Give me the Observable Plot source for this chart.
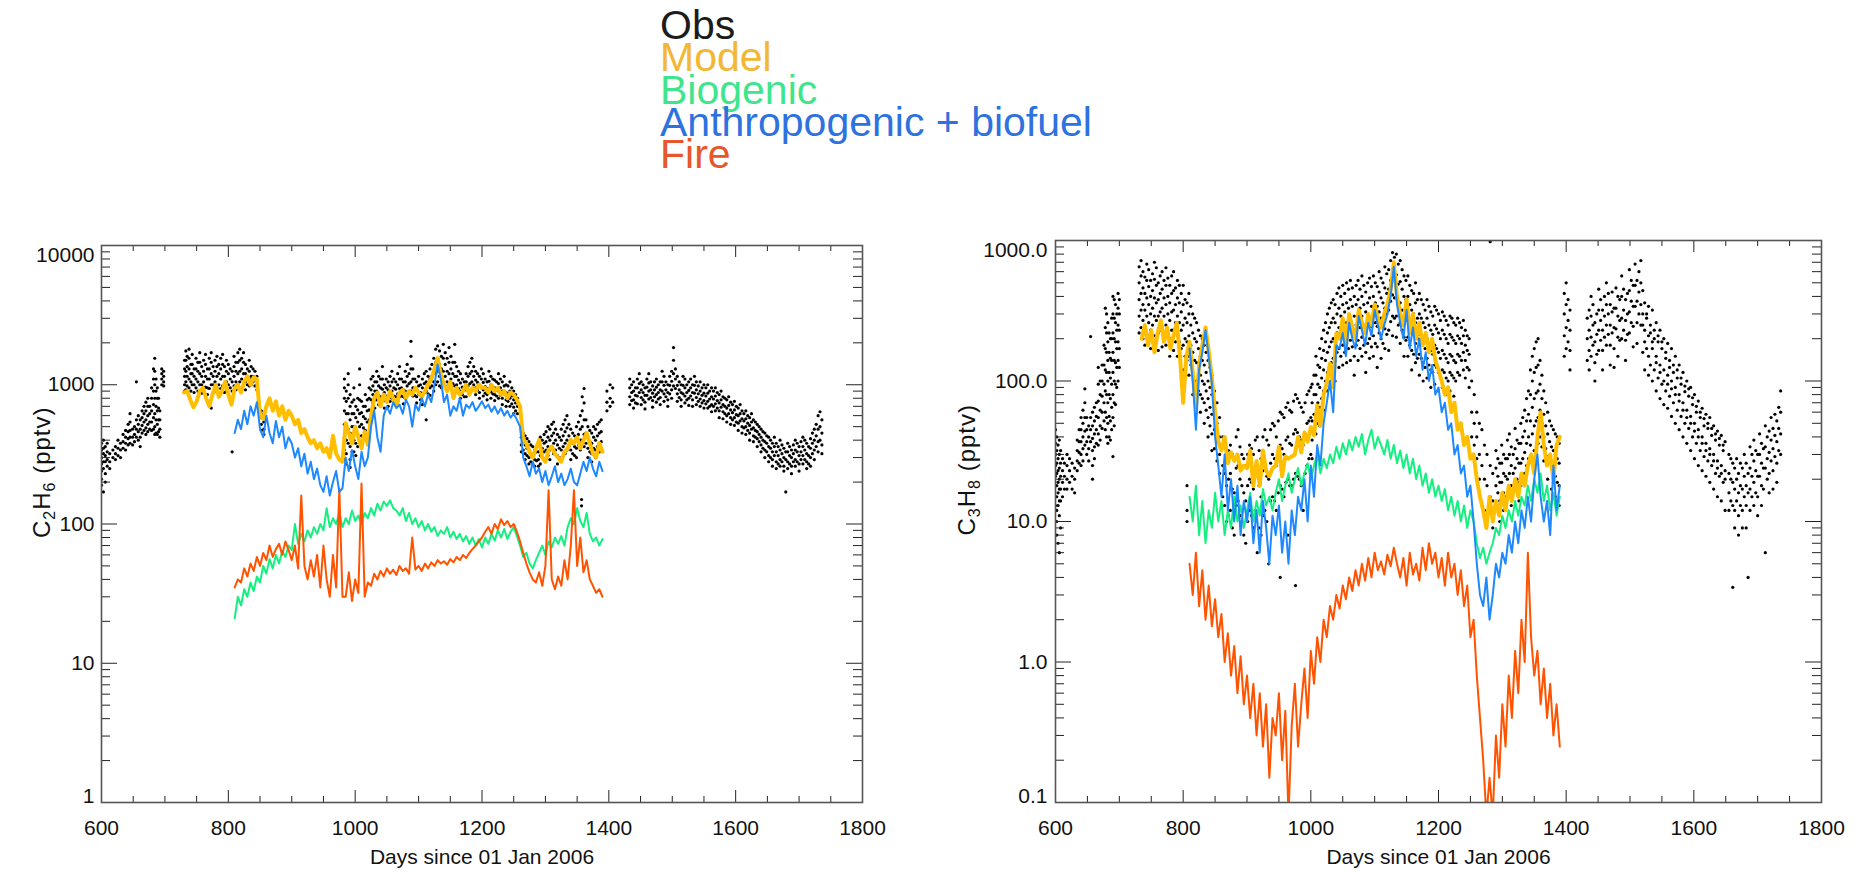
<!DOCTYPE html>
<html>
<head>
<meta charset="utf-8">
<script src="https://cdn.jsdelivr.net/npm/d3@7"></script>
<script src="https://cdn.jsdelivr.net/npm/@observablehq/plot@0.6"></script>
<style>
  body { margin: 0; background: #fff; width: 1861px; height: 872px; overflow: hidden; position: relative;
         font-family: "Liberation Sans", Helvetica, Arial, sans-serif; }
  #legend { position: absolute; left: 660px; top: 9px; font-size: 41px; line-height: 32.3px; white-space: nowrap; }
  .panel { position: absolute; top: 200px; }
</style>
</head>
<body>
<div id="legend"></div>
<div id="left" class="panel" style="left:0px"></div>
<div id="right" class="panel" style="left:930px"></div>
<script>
// ---- legend ----
const legendLabels = ["Obs", "Model", "Biogenic", "Anthropogenic + biofuel", "Fire"];
const legendColors = ["#1c1c1c", "#f3b733", "#3fe58c", "#2d72de", "#e8562b"];

// ---- line colours ----
const modelColor = "#ffbf00";
const bioColor = "#14f080";
const anthroColor = "#1e88ff";
const fireColor = "#ff5300";

// ---- shared x axis ----
const dayTicks = [600, 800, 1000, 1200, 1400, 1600, 1800];
const dayMinorTicks = [650, 700, 750, 850, 900, 950, 1050, 1100, 1150, 1250, 1300, 1350, 1450, 1500, 1550, 1650, 1700, 1750];
const xTitle = "Days since 01 Jan 2006";
const dayStep = 5; // model output spacing (days)

// ================= C2H6 =================
const c2h6Decades = [1, 10, 100, 1000, 10000];
const c2h6ModelStart = 730;
const c2h6Model = [
  880, 900, 780, 690, 760, 900, 950, 800, 700, 850, 1000, 820, 900, 1050, 850, 720, 950, 1000, 880, 1050, 1150, 1000, 1130, 1100,
  600, 570, 700, 800, 650, 760, 600, 700, 560, 650,
  600, 520, 560, 450, 480, 420, 380, 400, 350,
  380, 330, 350, 300, 430, 320, 290, 280,
  530, 450, 380, 500, 420, 350, 460, 370,
  600, 800, 880, 700,
  850, 750, 900, 800, 700, 880, 920, 800, 900, 850, 950, 880, 820, 900,
  1000, 1100, 1300, 1550, 1200,
  1000, 900, 1050, 800, 950, 850, 900, 1000, 850, 950, 900, 1000, 950,
  950, 880, 1000, 900, 950, 850, 900, 800, 880, 850, 780,
  700, 400,
  380, 330, 300, 350, 400, 300, 280, 340, 360, 320, 300, 280, 330, 350, 400, 380, 420, 350, 400, 450, 380, 320, 300, 380, 330
];
const c2h6CompStart = 810;
const c2h6Anthro = [
  450, 560, 480, 650, 520, 700, 600, 750, 480,
  420, 600, 450, 380, 550, 420, 500, 350, 420,
  380, 300, 350, 260, 320, 230, 280, 210, 250,
  190, 170, 220, 160, 200, 240, 170, 180,
  300, 240, 340, 260, 210, 330, 260, 300,
  500, 650, 420, 330, 600, 700, 620, 750,
  680, 720, 620, 780, 700, 500, 720, 650, 800, 700,
  850, 750, 1000, 1400, 1100,
  750, 850, 600, 700, 650, 800, 600, 720, 680, 750, 650, 700, 760,
  680, 720, 640, 700, 620, 680, 600, 650, 580, 620, 560,
  500, 300, 260, 220, 280,
  230, 250, 200, 240, 190, 220, 260, 200, 230, 190, 210, 250, 200, 190, 230, 280, 240, 300, 250, 220, 280, 240
];
const c2h6Bio = [
  21, 30, 26, 34, 30, 38, 33, 42, 38,
  50, 44, 56, 48, 60, 52, 64, 58, 70,
  65, 100, 72, 85, 75, 90, 80, 95, 85,
  100, 90, 130, 95, 110, 100, 120, 95,
  110, 100, 125, 105, 115, 100, 120, 110,
  130, 115, 140, 125, 145, 135, 148, 130,
  125, 115, 130, 105, 120, 100, 110, 95, 105, 90,
  100, 88, 95, 82, 90,
  85, 95, 80, 88, 78, 85, 75, 82, 72, 80, 70, 78, 68,
  80, 72, 85, 76, 90, 80, 92, 78, 88, 95, 82,
  70, 58, 62, 52, 48,
  55, 62, 70, 60, 75, 68, 80, 72, 82, 70, 95, 110, 100, 130, 105, 95, 120, 85, 75, 80, 70, 78
];
const c2h6Fire = [
  35, 40, 38, 48, 42, 52, 46, 58, 50,
  62, 55, 70, 58, 66, 72, 60, 75, 65,
  55, 70, 48, 160, 50, 40, 55, 42, 60,
  35, 70, 40, 30, 60, 35, 180, 30,
  30, 45, 28, 40, 32, 195, 30, 38,
  36, 44, 40, 46, 42, 48, 44, 47,
  43, 50, 46, 48, 44, 80, 47, 50, 46, 52,
  48, 53, 50, 55, 52,
  54, 51, 56, 53, 58, 55, 60, 57, 62, 66, 70, 75, 80,
  88, 95, 85, 100, 92, 108, 98, 105, 95, 100, 88,
  75, 62, 52, 45, 40,
  38, 45, 36, 50, 175, 40, 34, 42, 36, 55, 40, 70, 175, 50, 80, 45, 55, 40, 36, 32, 34, 30
];
// observations: [day, value, value, ...]
const c2h6Obs = [
  [600, 380, 340, 300, 270, 240, 210, 190], [603, 400, 350, 320, 280, 250, 170], [606, 360, 310, 280, 230, 200],
  [609, 380, 330, 290, 260], [613, 320, 280, 250], [618, 340, 300], [622, 360, 320, 290], [626, 400, 350, 310],
  [630, 380, 340, 300], [634, 440, 390, 350], [638, 470, 420, 380, 340], [642, 520, 460, 410, 370],
  [645, 620, 540, 470, 420, 380], [649, 480, 420, 370], [652, 500, 440, 390], [655, 1050, 560, 480, 420],
  [658, 600, 520, 460, 400], [661, 560, 480, 420, 360], [664, 650, 580, 510, 450], [667, 700, 620, 540, 470],
  [670, 750, 650, 560, 490, 440], [673, 800, 700, 600, 520, 460], [676, 700, 620, 540, 480],
  [679, 950, 800, 650, 540, 470], [682, 1300, 1100, 900, 720, 580, 480], [684, 1550, 1250, 1000, 800, 620, 500, 440],
  [686, 1100, 900, 700, 560, 450], [688, 950, 800, 650, 520, 440], [690, 800, 680, 560, 460], [692, 650, 560, 480, 420],
  [695, 1300, 1200, 1100, 1000], [698, 1250, 1150, 1050, 980],
  [731, 1500, 1300, 1150, 1000, 900], [733, 1750, 1500, 1250, 1050, 920], [735, 1600, 1350, 1150, 980],
  [738, 1800, 1550, 1300, 1100, 950], [741, 1400, 1200, 1050, 900], [743, 1650, 1400, 1200, 1000],
  [746, 1300, 1150, 1000, 880], [749, 1550, 1300, 1100, 950], [752, 1450, 1250, 1050, 900],
  [755, 1700, 1450, 1200, 1000], [758, 1350, 1150, 1000, 870], [761, 1500, 1250, 1050, 920],
  [764, 1650, 1400, 1150, 960], [767, 1300, 1100, 950, 850], [770, 1550, 1300, 1100, 940],
  [773, 1700, 1450, 1200, 1000, 680], [776, 1350, 1150, 1000, 880], [779, 1500, 1250, 1050, 900],
  [782, 1600, 1350, 1150, 950], [785, 1400, 1200, 1000, 870], [788, 1550, 1300, 1100, 940],
  [791, 1650, 1400, 1150, 980], [794, 1350, 1150, 1000, 880], [797, 1500, 1250, 1050, 900],
  [800, 1400, 1200, 1000, 860], [803, 1300, 1100, 950], [806, 1250, 1050, 900, 330],
  [809, 1600, 1350, 1150, 980], [812, 1450, 1250, 1050, 920], [815, 1700, 1450, 1200, 1000],
  [818, 1800, 1500, 1250, 1050], [821, 1550, 1300, 1100, 950], [824, 1700, 1450, 1200, 1000],
  [827, 1400, 1200, 1050, 920], [830, 1300, 1150, 1000], [833, 1500, 1250, 1100, 980], [836, 1350, 1150, 1000],
  [839, 1300, 1150, 1050], [842, 1250, 1100, 980], [845, 1150, 1000, 920], [852, 650, 580, 520, 470], [856, 620, 540, 480, 440],
  [983, 1100, 950, 800, 650, 520, 420, 340, 290], [986, 900, 760, 620, 500, 400, 320, 270],
  [989, 1200, 1000, 800, 620, 480, 380], [992, 850, 700, 560, 450, 360, 290, 255], [995, 750, 620, 500, 400, 330],
  [998, 950, 780, 620, 500, 400, 330], [1001, 700, 580, 470, 380, 310], [1004, 800, 660, 540, 440, 360],
  [1007, 1300, 1000, 780, 620, 500], [1010, 760, 630, 520, 430], [1013, 700, 590, 490, 410], [1016, 850, 700, 570, 470],
  [1019, 780, 650, 540], [1022, 950, 800, 660, 560], [1025, 1100, 920, 780, 650],
  [1028, 1150, 980, 850, 740], [1031, 1050, 900, 780, 680], [1034, 1250, 1050, 900, 780], [1037, 1150, 980, 840, 720],
  [1040, 1100, 950, 820, 700], [1043, 1350, 1100, 930, 800], [1046, 1000, 880, 770, 680], [1049, 1100, 950, 830],
  [1052, 1050, 920, 800, 700], [1055, 1150, 980, 850, 760], [1058, 1250, 1050, 900, 800], [1061, 1100, 950, 830],
  [1064, 1050, 930, 820, 720], [1067, 1200, 1000, 860, 760], [1070, 1350, 1100, 940, 820], [1073, 1100, 950, 830],
  [1076, 1050, 920, 820, 730], [1079, 1250, 1050, 900, 800], [1082, 1400, 1150, 980, 850], [1085, 1200, 1020, 880],
  [1088, 2050, 1600, 1300, 1050, 900], [1091, 1300, 1100, 950, 830], [1094, 1100, 950, 840], [1097, 1050, 920, 820, 740],
  [1100, 1150, 980, 860], [1103, 1000, 880, 780], [1106, 1100, 950, 830, 720], [1109, 1200, 1020, 880],
  [1112, 1250, 1050, 900, 560], [1115, 1150, 980, 860], [1118, 1300, 1100, 950, 840], [1121, 1400, 1150, 980],
  [1124, 1550, 1250, 1050, 900], [1127, 1800, 1450, 1200, 1000], [1130, 1900, 1550, 1250, 1050],
  [1133, 1750, 1400, 1150, 980], [1136, 1600, 1300, 1100, 950], [1139, 1950, 1550, 1250, 1050],
  [1142, 1700, 1400, 1150, 980], [1145, 1550, 1250, 1050, 920], [1148, 1850, 1450, 1200, 1000],
  [1151, 1600, 1300, 1100, 950], [1154, 1450, 1200, 1020], [1157, 1950, 1450, 1150, 980], [1160, 1350, 1150, 1000, 880],
  [1163, 1250, 1080, 940], [1166, 1200, 1030, 900, 800], [1169, 1100, 960, 850], [1172, 1050, 920, 820],
  [1175, 1200, 1050, 920, 820], [1178, 1350, 1150, 980], [1181, 1450, 1200, 1020, 900], [1184, 1550, 1250, 1050, 920],
  [1187, 1350, 1150, 1000], [1190, 1250, 1080, 950, 850], [1193, 1200, 1040, 920], [1196, 1150, 1000, 880, 800],
  [1199, 1300, 1100, 950], [1202, 1200, 1040, 920, 830], [1205, 1100, 970, 870], [1208, 1050, 940, 850, 780],
  [1211, 1250, 1060, 930], [1214, 1150, 1000, 890, 800], [1217, 1100, 960, 860], [1220, 1080, 950, 850, 770],
  [1223, 1050, 920, 830], [1226, 1200, 1020, 900, 800], [1229, 1100, 950, 840], [1232, 1050, 900, 800, 720],
  [1235, 1150, 980, 860], [1238, 1000, 880, 780, 700], [1241, 980, 860, 760], [1244, 1050, 900, 800, 700],
  [1247, 950, 830, 730], [1250, 900, 780, 690, 620], [1253, 850, 740, 650], [1256, 800, 700, 620],
  [1262, 480, 420, 370, 330], [1265, 450, 390, 340], [1268, 430, 370, 320, 290], [1271, 410, 350, 310],
  [1274, 390, 340, 300, 270], [1277, 370, 320, 280], [1280, 360, 310, 270], [1283, 340, 290, 260], [1286, 330, 285],
  [1289, 380, 330, 290, 260], [1292, 420, 360, 310, 270], [1295, 400, 350, 300], [1298, 440, 380, 330, 290],
  [1301, 460, 390, 340], [1304, 500, 420, 360, 310], [1307, 480, 400, 340, 290], [1310, 520, 430, 360],
  [1313, 540, 450, 380, 320], [1316, 480, 400, 340], [1319, 440, 370, 310, 270], [1322, 420, 350, 300],
  [1325, 480, 400, 340, 290], [1328, 520, 430, 360], [1331, 560, 460, 380, 320], [1334, 600, 490, 400, 340],
  [1337, 520, 430, 360], [1340, 480, 400, 340, 290], [1343, 450, 380, 320], [1346, 430, 360, 310],
  [1349, 500, 410, 350, 300], [1352, 540, 440, 370], [1355, 600, 480, 400, 340], [1357, 150, 135],
  [1358, 820, 650, 500, 400], [1361, 940, 740, 560, 440, 360], [1364, 560, 450, 380], [1367, 500, 420, 350, 300],
  [1370, 470, 390, 330], [1373, 450, 380, 320, 280], [1376, 500, 420, 350], [1379, 480, 400, 340, 300],
  [1382, 520, 430, 360], [1385, 540, 450, 380, 330], [1388, 560, 460, 390],
  [1397, 900, 750, 650], [1402, 1000, 800, 700], [1406, 950, 750],
  [1433, 1100, 950, 820, 720], [1436, 1000, 880, 770], [1439, 1050, 900, 780, 680], [1442, 950, 840, 740],
  [1445, 1100, 950, 830, 730], [1448, 1200, 1020, 880], [1451, 1050, 920, 810, 720], [1454, 1000, 880, 780],
  [1457, 950, 840, 750, 670], [1460, 1100, 960, 840], [1463, 1200, 1030, 900, 790], [1466, 1050, 920, 810],
  [1469, 980, 870, 770, 690], [1472, 1050, 920, 820], [1475, 1100, 960, 850, 750], [1478, 1000, 880, 790],
  [1481, 1050, 920, 810, 720], [1484, 1250, 1050, 900], [1487, 1150, 990, 860, 760], [1490, 1050, 920, 820],
  [1493, 1000, 880, 780, 700], [1496, 1150, 990, 860], [1499, 1250, 1060, 920, 800], [1502, 1850, 1500, 1200, 980],
  [1505, 1300, 1100, 940], [1508, 1150, 990, 860, 760], [1511, 1050, 920, 810], [1514, 1000, 880, 780, 700],
  [1517, 1150, 990, 860], [1520, 1100, 950, 830, 740], [1523, 1000, 880, 780], [1526, 1050, 910, 800, 710],
  [1529, 1100, 950, 830], [1532, 1000, 880, 780, 700], [1535, 1150, 990, 870], [1538, 1050, 920, 810, 720],
  [1541, 980, 860, 760], [1544, 1050, 900, 790, 700], [1547, 950, 840, 740], [1550, 1000, 870, 770, 680],
  [1553, 950, 830, 730], [1556, 1000, 870, 760, 680], [1559, 900, 790, 700], [1562, 950, 820, 720, 640],
  [1565, 900, 790, 700], [1568, 950, 830, 730, 650], [1571, 880, 770, 680], [1574, 850, 740, 650, 580],
  [1577, 900, 780, 690], [1580, 820, 720, 640, 570], [1583, 800, 700, 620], [1586, 780, 680, 600, 540],
  [1589, 820, 710, 620], [1592, 750, 660, 580, 520], [1595, 720, 630, 560], [1598, 760, 660, 580, 510],
  [1601, 700, 610, 540], [1604, 680, 600, 530, 470], [1607, 720, 620, 550], [1610, 650, 570, 500, 450],
  [1613, 620, 550, 490], [1616, 650, 570, 500, 440], [1619, 600, 530, 470], [1622, 580, 510, 450, 400],
  [1625, 620, 540, 480], [1628, 560, 490, 430, 390], [1631, 540, 470, 420], [1634, 520, 460, 410, 360],
  [1637, 500, 440, 390], [1640, 480, 420, 370, 330], [1643, 460, 400, 350], [1646, 450, 390, 340, 300],
  [1649, 430, 380, 330], [1652, 420, 360, 310, 280], [1655, 400, 350, 300], [1658, 380, 330, 290, 260],
  [1661, 420, 360, 310], [1664, 380, 330, 280, 250], [1667, 360, 310, 270], [1670, 400, 340, 290, 260],
  [1673, 370, 320, 280], [1676, 350, 300, 260, 240], [1679, 170, 330, 290], [1682, 380, 330, 280, 250],
  [1685, 360, 310, 270], [1688, 340, 300, 260, 230], [1691, 370, 320, 280], [1694, 400, 340, 290, 260],
  [1697, 380, 330, 280], [1700, 360, 310, 270, 240], [1703, 390, 330, 290], [1706, 420, 360, 310, 270],
  [1709, 400, 340, 290], [1712, 380, 320, 280, 250], [1715, 360, 310, 270], [1718, 410, 350, 300, 260],
  [1721, 450, 380, 320], [1724, 480, 400, 340, 290], [1727, 520, 430, 360], [1730, 600, 480, 390, 330],
  [1733, 640, 500, 400], [1736, 560, 450, 370, 320]
];

// ================= C3H8 =================
const c3h8Decades = [0.1, 1, 10, 100, 1000];
const c3h8ModelStart = 735;
const c3h8Model = [
  200, 250, 180, 230, 160, 220, 270, 190, 240, 170, 210, 260, 150, 70, 150, 190, 115, 65, 130, 180, 240, 165, 105,
  60, 37, 32, 40, 26, 31, 27, 30, 23, 25,
  24, 32, 18, 27, 18, 32, 23, 21, 24,
  25, 34, 21, 29, 28, 29, 30, 40,
  31, 43, 37, 47, 41, 67, 48, 80,
  97, 133, 90, 218,
  200, 280, 180, 300, 240, 200, 320, 260, 220, 300, 250, 350, 280, 240,
  300, 350, 450, 700, 400,
  300, 250, 380, 220, 300, 200, 260, 180, 220, 160, 200, 140, 120,
  100, 80, 90, 60, 70, 45, 50, 35, 40, 28, 30,
  20, 15,
  12, 9, 15, 10, 14, 11, 16, 12, 18, 14, 20, 15, 22, 18, 25, 30, 22, 40, 60, 35, 25, 30, 20, 35, 40
];
const c3h8CompStart = 810;
const c3h8Anthro = [
  170, 100, 45, 120, 160, 230, 150, 95, 40,
  25, 15, 30, 12, 20, 10, 18, 8, 14,
  10, 15, 7, 12, 6, 14, 9, 5, 11,
  8, 13, 6, 10, 5, 12, 8, 15,
  12, 20, 10, 25, 15, 35, 25, 50,
  70, 100, 60, 180, 170, 220, 150, 260,
  200, 170, 290, 230, 180, 260, 210, 320, 250, 200,
  250, 300, 400, 650, 350,
  260, 200, 320, 170, 240, 150, 200, 120, 160, 100, 130, 80, 90,
  60, 70, 45, 50, 30, 35, 22, 25, 15, 18, 10,
  5, 3, 2.5, 4, 2,
  3, 5, 4, 6, 5, 8, 6, 10, 7, 12, 9, 15, 10, 20, 30, 15, 10, 14, 8, 25, 12, 18
];
const c3h8Bio = [
  15, 10, 18, 8, 14, 7, 12, 9, 16,
  10, 14, 8, 12, 9, 15, 10, 13, 9,
  12, 16, 10, 14, 11, 17, 13, 15, 12,
  16, 20, 14, 18, 22, 16, 20, 24,
  18, 22, 26, 20, 25, 30, 22, 28,
  24, 30, 26, 34, 28, 36, 30, 38,
  32, 40, 34, 42, 30, 38, 45, 33, 40, 35,
  30, 38, 28, 35, 26,
  32, 24, 30, 22, 28, 20, 25, 18, 22, 16, 20, 15, 18,
  14, 17, 12, 15, 11, 14, 10, 13, 9, 12, 10,
  7, 5.5, 6.5, 5, 6,
  7, 9, 8, 11, 9, 12, 10, 14, 11, 15, 13, 18, 14, 20, 16, 22, 14, 18, 12, 16, 11, 15
];
const c3h8Fire = [
  5, 3, 6, 2.5, 4.5, 2, 3.5, 1.8, 2.8,
  1.5, 2.2, 1, 1.6, 0.8, 1.3, 0.6, 1.1, 0.5,
  0.8, 0.4, 0.7, 0.3, 0.6, 0.25, 0.5, 0.15, 0.4,
  0.3, 0.6, 0.2, 0.45, 0.08, 0.35, 0.7, 0.25,
  0.5, 0.9, 0.4, 1.2, 0.7, 1.5, 1, 2,
  1.5, 2.5, 2, 3, 2.4, 3.5, 2.8, 4,
  3.2, 4.5, 3.5, 5, 3.8, 5.5, 4, 6, 4.5, 5.2,
  4.2, 5.8, 4.8, 6.5, 5,
  4, 5.5, 3.5, 6, 4.2, 5, 3.8, 6.5, 4.5, 7, 5, 6, 4,
  5.5, 3.5, 6, 4, 5, 3, 4.5, 2.5, 3.5, 1.5, 2,
  0.8, 0.4, 0.2, 0.08, 0.15,
  0.08, 0.3, 0.15, 0.5, 0.25, 0.8, 0.4, 1.2, 0.6, 2, 1, 6, 1.5, 0.8, 1.2, 0.5, 0.9, 0.4, 0.7, 0.3, 0.5, 0.25
];
const c3h8Obs = [
  [600, 45, 36, 30, 25, 21, 18, 15, 13], [602, 40, 32, 26, 22, 18, 15, 12, 10, 8], [604, 35, 28, 23, 19, 16, 13, 7],
  [606, 38, 30, 24, 20, 17, 14, 11, 6], [608, 32, 26, 21, 17, 14, 9], [611, 28, 23, 19, 15], [614, 26, 21, 17],
  [618, 30, 25, 20, 17], [622, 28, 23, 19], [626, 26, 21, 17], [630, 24, 20, 16], [634, 38, 32, 27, 23],
  [637, 45, 37, 31, 26], [640, 55, 45, 37, 30, 25], [643, 62, 50, 40, 33, 27], [646, 88, 70, 55, 44, 35],
  [649, 55, 45, 37, 30], [652, 48, 40, 33, 27], [655, 207, 55, 45, 37], [658, 60, 48, 39, 32, 25, 20],
  [661, 65, 52, 42, 34, 28], [664, 70, 56, 45, 36], [667, 125, 95, 72, 55, 42, 35], [670, 100, 80, 62, 48, 38],
  [673, 130, 100, 78, 60, 46], [676, 180, 130, 95, 70, 52], [678, 330, 240, 170, 120, 85, 60, 45],
  [680, 300, 220, 160, 115, 80, 55, 40], [682, 260, 190, 140, 100, 70, 50, 36], [684, 220, 160, 115, 80, 56, 40],
  [686, 200, 145, 105, 75, 52, 38], [688, 280, 200, 140, 95, 65, 45], [690, 400, 300, 220, 160, 115, 80, 55, 29],
  [692, 380, 280, 200, 140, 100, 70, 48], [694, 350, 260, 190, 135, 95, 68], [696, 300, 230, 170, 125, 90],
  [698, 420, 330, 250, 190, 140, 100], [700, 380, 300, 230, 170, 125],
  [731, 650, 500, 380, 290, 220], [734, 720, 560, 420, 320, 240], [737, 600, 460, 350, 270, 200],
  [740, 550, 420, 320, 240, 180], [743, 680, 520, 390, 290], [746, 620, 470, 350, 260, 190],
  [749, 520, 400, 300, 230, 170], [752, 580, 440, 330, 250], [755, 700, 530, 390, 290, 210],
  [758, 640, 480, 360, 270], [761, 500, 380, 290, 220, 165], [764, 560, 420, 310, 230],
  [767, 600, 450, 330, 240, 175], [770, 520, 390, 290, 210], [773, 640, 480, 350, 250, 180],
  [776, 540, 400, 300, 220], [779, 480, 360, 270, 200, 150], [782, 560, 420, 310, 230],
  [785, 600, 440, 320, 230, 165], [788, 460, 350, 260, 190], [791, 520, 390, 290, 210, 150],
  [794, 480, 360, 260, 190], [797, 420, 310, 230, 170, 120], [800, 480, 350, 250, 180, 120],
  [803, 380, 280, 200, 150], [806, 360, 260, 190, 140, 18, 12, 10], [809, 420, 300, 210, 150, 110],
  [812, 340, 250, 180, 130], [815, 300, 220, 160, 115, 80], [818, 280, 200, 140, 100], [821, 260, 190, 135, 95, 70],
  [824, 230, 170, 120, 85], [827, 210, 150, 110, 80, 60], [830, 200, 140, 100, 75], [833, 180, 130, 95, 70, 50],
  [836, 160, 115, 85, 62], [839, 140, 100, 75, 55, 40], [842, 125, 90, 65, 48], [845, 110, 80, 58, 42, 32],
  [849, 85, 62, 45, 33], [853, 70, 50, 37, 27], [857, 55, 40, 30, 22],
  [862, 40, 25, 15], [865, 35, 22, 13], [868, 30, 18, 10], [871, 32, 20, 11], [874, 35, 22, 12], [877, 30, 17, 9],
  [880, 28, 16, 8], [883, 40, 24, 13], [886, 45, 25, 14], [889, 34, 20, 11], [892, 30, 18, 10], [895, 28, 16, 8],
  [898, 25, 14, 7], [901, 30, 18, 10], [904, 35, 20, 12], [907, 33, 19, 11], [910, 30, 17, 9], [913, 38, 21, 12],
  [916, 40, 22, 6], [919, 32, 18, 9], [922, 28, 15, 8], [925, 40, 23, 11], [928, 45, 25, 12], [931, 38, 21, 10],
  [934, 35, 20, 5], [937, 45, 26, 14], [940, 50, 30, 15], [943, 48, 28, 14], [946, 40, 25, 12], [949, 52, 30, 16],
  [952, 60, 35, 18, 4], [955, 58, 33, 17], [958, 55, 30, 15], [961, 65, 38, 19], [964, 70, 40, 20, 8],
  [967, 62, 36, 18], [970, 60, 35, 18], [973, 72, 42, 20], [976, 80, 45, 22, 3.5], [979, 75, 43, 21],
  [982, 70, 40, 20], [985, 65, 38, 18], [988, 60, 35, 12], [991, 70, 42, 22], [994, 80, 50, 25], [997, 85, 52, 28],
  [1000, 90, 55, 30],
  [1002, 95, 70, 52, 38, 28], [1005, 110, 80, 58, 42], [1008, 150, 110, 80, 58, 42], [1011, 130, 95, 70, 50],
  [1014, 170, 125, 90, 65, 48], [1017, 200, 145, 105, 75], [1020, 230, 165, 120, 85, 62], [1023, 260, 190, 140, 100],
  [1026, 300, 220, 160, 115, 85], [1029, 330, 240, 175, 125], [1032, 360, 260, 190, 135, 100], [1035, 380, 280, 200, 145],
  [1038, 350, 260, 190, 140, 100], [1041, 420, 300, 220, 160], [1044, 460, 330, 240, 170, 125], [1047, 400, 290, 210, 150],
  [1050, 480, 350, 250, 180, 130], [1053, 420, 310, 220, 160], [1056, 500, 360, 260, 185, 135], [1059, 450, 330, 240, 170],
  [1062, 520, 380, 270, 195, 140], [1065, 460, 340, 245, 175], [1068, 400, 290, 210, 150, 110], [1071, 480, 350, 250, 180],
  [1074, 520, 380, 270, 195, 140], [1077, 450, 330, 240, 170], [1080, 560, 400, 290, 205, 150], [1083, 480, 350, 250, 180],
  [1086, 430, 310, 225, 160, 115], [1089, 500, 360, 260, 185], [1092, 540, 390, 280, 200, 145], [1095, 470, 340, 245, 175],
  [1098, 560, 400, 290, 210, 150], [1101, 500, 360, 260, 185], [1104, 470, 340, 245, 175, 125], [1107, 600, 430, 310, 220],
  [1110, 540, 390, 280, 200, 145], [1113, 500, 360, 260, 185], [1116, 650, 460, 330, 235, 170], [1119, 580, 420, 300, 215],
  [1122, 620, 450, 320, 230, 165], [1125, 720, 520, 370, 265], [1128, 820, 580, 410, 290, 210], [1131, 760, 540, 390, 280],
  [1134, 800, 570, 400, 290, 205], [1137, 680, 490, 350, 250], [1140, 720, 510, 360, 260, 185], [1143, 620, 450, 320, 230],
  [1146, 560, 400, 290, 205, 150], [1149, 520, 380, 270, 195], [1152, 560, 400, 290, 205, 150], [1155, 480, 350, 250, 180],
  [1158, 440, 320, 230, 165, 120], [1161, 420, 300, 215, 155], [1164, 500, 360, 260, 185, 135], [1167, 380, 280, 200, 145],
  [1170, 420, 300, 215, 155, 110],
  [1173, 380, 280, 200, 145], [1176, 350, 260, 185, 135, 100], [1179, 320, 240, 170, 125], [1182, 380, 280, 200, 145, 105],
  [1185, 340, 250, 180, 130], [1188, 310, 230, 165, 120, 90], [1191, 290, 215, 155, 115], [1194, 340, 250, 180, 130, 95],
  [1197, 320, 235, 170, 125], [1200, 300, 220, 160, 115, 85], [1203, 270, 200, 145, 105], [1206, 310, 230, 165, 120, 90],
  [1209, 290, 215, 155, 115], [1212, 270, 200, 145, 105, 80], [1215, 250, 185, 135, 100], [1218, 290, 215, 155, 115, 85],
  [1221, 280, 205, 150, 110], [1224, 260, 195, 140, 105, 78], [1227, 250, 185, 135, 100], [1230, 280, 210, 155, 115],
  [1233, 260, 200, 150, 110], [1236, 240, 185, 140], [1239, 270, 210, 160, 120], [1242, 230, 180, 140, 105],
  [1245, 210, 165, 125], [1248, 200, 155, 120, 90],
  [1252, 100, 60, 40], [1256, 80, 50, 35], [1260, 60, 40, 28], [1264, 50, 30, 20], [1268, 45, 25], [1272, 35, 20, 12],
  [1276, 30, 18], [1281, 980, 25, 15], [1285, 22, 14, 9],
  [1290, 32, 24, 18, 13], [1293, 28, 21, 16, 12], [1296, 26, 19, 14, 10], [1299, 35, 26, 19, 14], [1302, 30, 22, 16, 12],
  [1305, 28, 21, 15], [1308, 38, 28, 20, 15], [1311, 42, 30, 22, 16], [1314, 34, 25, 18, 13], [1317, 30, 22, 16],
  [1320, 46, 33, 24, 17], [1323, 38, 28, 20], [1326, 36, 26, 19, 14], [1329, 50, 36, 26, 18], [1332, 55, 40, 28, 20],
  [1335, 62, 44, 31, 22], [1338, 75, 52, 36, 25], [1341, 85, 58, 40, 28], [1344, 120, 80, 52, 35],
  [1347, 150, 100, 65, 42, 28], [1350, 170, 115, 75, 48, 32], [1353, 190, 125, 82, 52], [1356, 200, 130, 85, 55, 36],
  [1359, 140, 95, 62, 40], [1362, 110, 75, 50, 34], [1365, 85, 58, 40, 27], [1368, 70, 48, 33], [1371, 60, 42, 29, 20],
  [1374, 52, 37, 26], [1377, 48, 34, 24, 17], [1380, 45, 32, 22], [1383, 42, 30, 21, 15], [1386, 40, 28, 19],
  [1389, 36, 26, 18, 13],
  [1397, 420, 300, 210, 150], [1400, 500, 350, 240, 170], [1403, 380, 270, 190], [1406, 320, 230, 165, 120],
  [1433, 280, 200, 140], [1436, 320, 230, 165, 120], [1439, 400, 290, 205, 150], [1442, 350, 250, 180],
  [1445, 260, 190, 135, 100], [1448, 300, 215, 155], [1451, 450, 320, 230, 165], [1454, 380, 270, 195],
  [1457, 320, 230, 165, 120], [1460, 400, 290, 205], [1463, 500, 350, 250, 180], [1466, 420, 300, 215],
  [1469, 350, 250, 180, 130], [1472, 430, 310, 220], [1475, 330, 240, 170, 125], [1478, 460, 330, 235],
  [1481, 400, 290, 205, 150], [1484, 380, 270, 195], [1487, 560, 400, 280, 200], [1490, 450, 320, 230],
  [1493, 380, 270, 195, 140], [1496, 420, 300, 215], [1499, 620, 440, 310, 220], [1502, 520, 370, 260],
  [1505, 480, 340, 245, 175], [1508, 680, 480, 340], [1511, 520, 370, 260, 185], [1514, 600, 430, 300],
  [1517, 720, 500, 350, 250],
  [1520, 440, 300, 250, 160], [1523, 360, 230, 190, 120], [1526, 300, 280, 170], [1529, 340, 210, 150, 110],
  [1532, 250, 220, 130], [1535, 320, 190, 170, 100], [1538, 230, 200, 120], [1541, 260, 150, 135, 85],
  [1544, 210, 190, 105], [1547, 230, 130, 115, 75], [1550, 190, 170, 95], [1553, 200, 120, 100, 68],
  [1556, 160, 145, 85], [1559, 185, 110, 95, 64], [1562, 140, 125, 78], [1565, 170, 100, 88, 56],
  [1568, 130, 115, 70], [1571, 150, 90, 80, 50], [1574, 120, 105, 62], [1577, 130, 80, 72, 45],
  [1580, 105, 95, 56], [1583, 115, 70, 62, 40], [1586, 92, 84, 50], [1589, 100, 62, 55, 36],
  [1592, 88, 78, 46], [1595, 90, 56, 50, 32], [1598, 76, 68, 40], [1601, 80, 50, 44, 28],
  [1604, 66, 60, 36], [1607, 72, 45, 40, 25], [1610, 60, 55, 32], [1613, 64, 40, 36, 23],
  [1616, 54, 48, 29], [1619, 58, 36, 32, 21], [1622, 50, 46, 27], [1625, 55, 33, 30, 19],
  [1628, 46, 41, 25], [1631, 48, 30, 27, 17], [1634, 42, 38, 22], [1637, 44, 27, 24, 15],
  [1640, 39, 35, 21], [1643, 41, 25, 22, 14], [1646, 35, 32, 19], [1649, 37, 23, 20, 12],
  [1655, 30, 22, 16, 12], [1658, 28, 20, 14], [1661, 26, 19, 13, 3.4],
  [1664, 24, 17, 12, 9], [1667, 28, 20, 14], [1670, 22, 16, 11, 8], [1673, 26, 18, 13],
  [1676, 24, 17, 12, 9], [1679, 30, 21, 15], [1682, 26, 18, 13, 9], [1685, 22, 16, 4],
  [1688, 34, 24, 17, 12], [1691, 30, 21, 15], [1694, 38, 27, 19, 13], [1697, 32, 23, 16],
  [1700, 30, 21, 15, 11], [1703, 42, 30, 21], [1706, 36, 26, 18, 13], [1709, 33, 24, 17],
  [1712, 48, 34, 24, 6], [1715, 40, 28, 20], [1718, 44, 31, 22, 16], [1721, 55, 38, 27],
  [1724, 46, 33, 23, 17], [1727, 58, 41, 29], [1730, 52, 37, 26, 19], [1733, 65, 46, 32], [1736, 85, 60, 42, 30]
];

// ---- helpers ----
const FONT = '"Liberation Sans", Helvetica, Arial, sans-serif';
const series = (start, values) => values.map((v, i) => ({day: start + i * dayStep, v}));
const flattenObs = (groups) => groups.flatMap(([day, ...vals]) => vals.map((v) => ({day, v})));

function buildPanel(cfg) {
  const {width, height, mt, mr, mb, ml, decades} = cfg;
  const ih = height - mt - mb;
  const iw = width - ml - mr;
  const minor = decades.slice(0, -1).flatMap((d) => [2, 3, 4, 5, 6, 7, 8, 9].map((k) => d * k));
  const tick = {stroke: "#222", strokeWidth: 1};
  const labelStyle = {tickSize: 0, tickPadding: cfg.pad, tickFormat: cfg.fmt, fontSize: 21, label: null};
  const titleText = cfg.yTitle.join("");

  const svg = Plot.plot({
    width, height,
    marginTop: mt, marginRight: mr, marginBottom: mb, marginLeft: ml,
    style: {fontFamily: FONT, fontSize: "21px", color: "#111", background: "#fff"},
    x: {domain: [600, 1800], label: null},
    y: {type: "log", domain: [decades[0], decades[decades.length - 1]], label: null},
    marks: [
      Plot.dot(flattenObs(cfg.obs), {x: "day", y: "v", r: 1.6, fill: "#000", stroke: null, clip: true}),
      Plot.line(series(cfg.modelStart, cfg.model), {x: "day", y: "v", stroke: modelColor, strokeWidth: 4, clip: true}),
      Plot.line(series(cfg.compStart, cfg.bio), {x: "day", y: "v", stroke: bioColor, strokeWidth: 2, clip: true}),
      Plot.line(series(cfg.compStart, cfg.fire), {x: "day", y: "v", stroke: fireColor, strokeWidth: 2, clip: true}),
      Plot.line(series(cfg.compStart, cfg.anthro), {x: "day", y: "v", stroke: anthroColor, strokeWidth: 2, clip: true}),
      // inward tick marks on all four sides
      Plot.ruleX(dayTicks, {insetTop: ih - 12, ...tick}),
      Plot.ruleX(dayTicks, {insetBottom: ih - 12, ...tick}),
      Plot.ruleX(dayMinorTicks, {insetTop: ih - 6, ...tick}),
      Plot.ruleX(dayMinorTicks, {insetBottom: ih - 6, ...tick}),
      Plot.ruleY(decades, {insetRight: iw - 16, ...tick}),
      Plot.ruleY(decades, {insetLeft: iw - 16, ...tick}),
      Plot.ruleY(minor, {insetRight: iw - 9, ...tick}),
      Plot.ruleY(minor, {insetLeft: iw - 9, ...tick}),
      Plot.frame({stroke: "#555", strokeWidth: 1.6}),
      // tick labels
      Plot.axisX({ticks: dayTicks, tickSize: 0, tickPadding: 18, tickFormat: (d) => String(d), fontSize: 21, label: null}),
      Plot.axisY({ticks: decades.slice(1, -1), ...labelStyle}),
      Plot.axisY({ticks: [decades[decades.length - 1]], ...labelStyle, dy: 10}),
      Plot.axisY({ticks: [decades[0]], ...labelStyle, dy: -6}),
      // axis titles
      Plot.text([xTitle], {text: (d) => d, frameAnchor: "bottom", dy: 61, fontSize: 21, fill: "#111"}),
      Plot.text([titleText], {text: (d) => d, frameAnchor: "left", rotate: -90, dx: cfg.yTitleDx, dy: 14,
        fontSize: 24, fill: "#111"})
    ]
  });

  // rebuild the y title with chemical subscripts
  const t = Array.from(svg.querySelectorAll("text")).find((el) => el.textContent === titleText);
  if (t) {
    const sel = d3.select(t).text(null).attr("letter-spacing", 1);
    let lowered = false;
    cfg.yTitle.forEach((part, i) => {
      const isSub = i === 1 || i === 3;
      const ts = sel.append("tspan").text(part);
      if (isSub) { ts.attr("font-size", 16).attr("dy", 5); lowered = true; }
      else if (lowered) { ts.attr("dy", -5); lowered = false; }
    });
  }
  return svg;
}

// ---- legend ----
const legend = document.getElementById("legend");
legendLabels.forEach((label, i) => {
  const div = document.createElement("div");
  div.textContent = label;
  div.style.color = legendColors[i];
  legend.appendChild(div);
});

// ---- panels ----
document.getElementById("left").appendChild(buildPanel({
  width: 900, height: 672, mt: 45, mr: 38, mb: 70, ml: 101,
  decades: c2h6Decades, fmt: (d) => String(d), pad: 7,
  yTitle: ["C", "2", "H", "6", " (pptv)"], yTitleDx: -59,
  obs: c2h6Obs, modelStart: c2h6ModelStart, model: c2h6Model,
  compStart: c2h6CompStart, anthro: c2h6Anthro, bio: c2h6Bio, fire: c2h6Fire
}));

document.getElementById("right").appendChild(buildPanel({
  width: 931, height: 672, mt: 40, mr: 40, mb: 70, ml: 125,
  decades: c3h8Decades, fmt: d3.format(".1f"), pad: 8,
  yTitle: ["C", "3", "H", "8", " (pptv)"], yTitleDx: -88,
  obs: c3h8Obs, modelStart: c3h8ModelStart, model: c3h8Model,
  compStart: c3h8CompStart, anthro: c3h8Anthro, bio: c3h8Bio, fire: c3h8Fire
}));
</script>
</body>
</html>
